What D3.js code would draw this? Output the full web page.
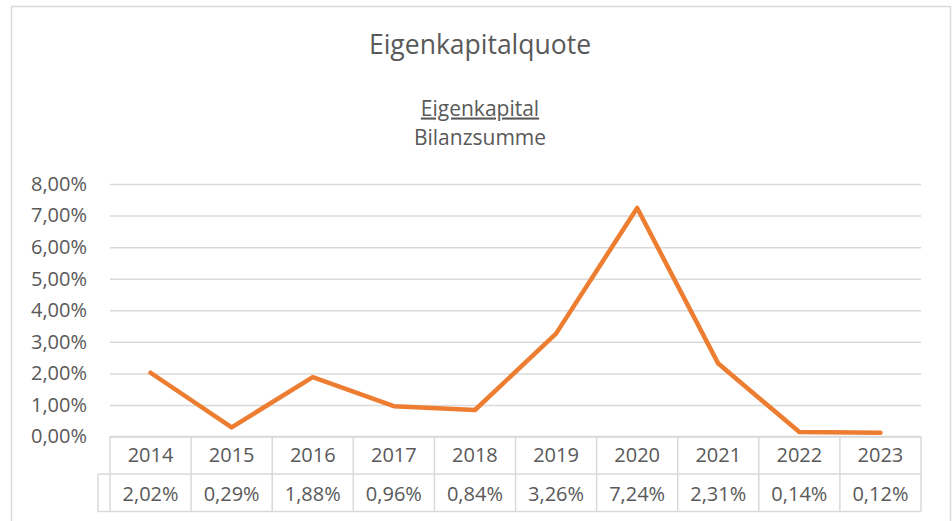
<!DOCTYPE html>
<html>
<head>
<meta charset="utf-8">
<script src="https://cdn.jsdelivr.net/npm/d3@7"></script>
<style>
  html, body { margin: 0; padding: 0; background: #ffffff; }
  svg { display: block; font-family: "Open Sans", "Liberation Sans", sans-serif; }
</style>
</head>
<body>
<svg id="chart" width="952" height="521"></svg>
<script>
const years = ["2014","2015","2016","2017","2018","2019","2020","2021","2022","2023"];
const values = [0.0202, 0.0029, 0.0188, 0.0096, 0.0084, 0.0326, 0.0724, 0.0231, 0.0014, 0.0012];
const yTicks = [0, 0.01, 0.02, 0.03, 0.04, 0.05, 0.06, 0.07, 0.08];
const titleText = "Eigenkapitalquote";
const numeratorText = "Eigenkapital";
const denominatorText = "Bilanzsumme";

const fmtPct = v => (v * 100).toFixed(2).replace(".", ",") + "%";

const svg = d3.select("#chart");
const textColor = "#595959";
const gridColor = "#d9d9d9";

// outer chart border
svg.append("rect")
  .attr("x", 11.5).attr("y", 6.5)
  .attr("width", 939).attr("height", 540)
  .attr("fill", "none").attr("stroke", gridColor).attr("stroke-width", 1.5);

// title
svg.append("text")
  .attr("x", 480).attr("y", 54)
  .attr("text-anchor", "middle")
  .attr("font-size", 26.5)
  .attr("fill", textColor)
  .text(titleText);

svg.append("text")
  .attr("x", 480).attr("y", 115.5)
  .attr("text-anchor", "middle")
  .attr("font-size", 21)
  .attr("fill", textColor)
  .attr("text-decoration", "underline")
  .text(numeratorText);

svg.append("text")
  .attr("x", 480).attr("y", 144.5)
  .attr("text-anchor", "middle")
  .attr("font-size", 21)
  .attr("fill", textColor)
  .text(denominatorText);

// scales
const x = d3.scaleBand().domain(years).range([110, 921]).paddingInner(0).paddingOuter(0);
const y = d3.scaleLinear().domain([0, 0.08]).range([436.5, 184]);

// gridlines + y axis
const yAxis = d3.axisLeft(y)
  .tickValues(yTicks)
  .tickSize(-(921 - 110))
  .tickPadding(23)
  .tickFormat(fmtPct);

const gy = svg.append("g")
  .attr("transform", "translate(110,0)")
  .call(yAxis);
gy.select(".domain").remove();
gy.selectAll(".tick line").attr("stroke", gridColor).attr("stroke-width", 1.5);
gy.selectAll(".tick text")
  .attr("fill", textColor)
  .attr("font-size", 20)
  .attr("font-family", "\"Open Sans\", sans-serif");

// data table
const rowTop = 436.5, rowMid = 474, rowBot = 511.5;
const tbl = svg.append("g").attr("stroke", gridColor).attr("stroke-width", 1.5).attr("fill", "none");
tbl.append("line").attr("x1", 110).attr("x2", 921).attr("y1", rowTop).attr("y2", rowTop);
tbl.append("line").attr("x1", 98).attr("x2", 921).attr("y1", rowMid).attr("y2", rowMid);
tbl.append("line").attr("x1", 98).attr("x2", 921).attr("y1", rowBot).attr("y2", rowBot);
tbl.append("line").attr("x1", 98).attr("x2", 98).attr("y1", rowMid).attr("y2", rowBot);
const bounds = years.map(d => x(d)).concat([x(years[years.length - 1]) + x.bandwidth()]);
tbl.selectAll("line.v").data(bounds).enter().append("line")
  .attr("class", "v")
  .attr("x1", d => d).attr("x2", d => d)
  .attr("y1", rowTop).attr("y2", rowBot);

svg.append("g").selectAll("text").data(years).enter().append("text")
  .attr("x", d => x(d) + x.bandwidth() / 2)
  .attr("y", 462)
  .attr("text-anchor", "middle")
  .attr("font-size", 20)
  .attr("fill", textColor)
  .text(d => d);

svg.append("g").selectAll("text").data(values).enter().append("text")
  .attr("x", (d, i) => x(years[i]) + x.bandwidth() / 2)
  .attr("y", 500.5)
  .attr("text-anchor", "middle")
  .attr("font-size", 20)
  .attr("fill", textColor)
  .text(d => fmtPct(d));

// line
const line = d3.line()
  .x((d, i) => x(years[i]) + x.bandwidth() / 2)
  .y(d => y(d));

svg.append("path")
  .datum(values)
  .attr("d", line)
  .attr("fill", "none")
  .attr("stroke", "#ED7D31")
  .attr("stroke-width", 4.5)
  .attr("stroke-linejoin", "round")
  .attr("stroke-linecap", "round");
</script>
</body>
</html>
